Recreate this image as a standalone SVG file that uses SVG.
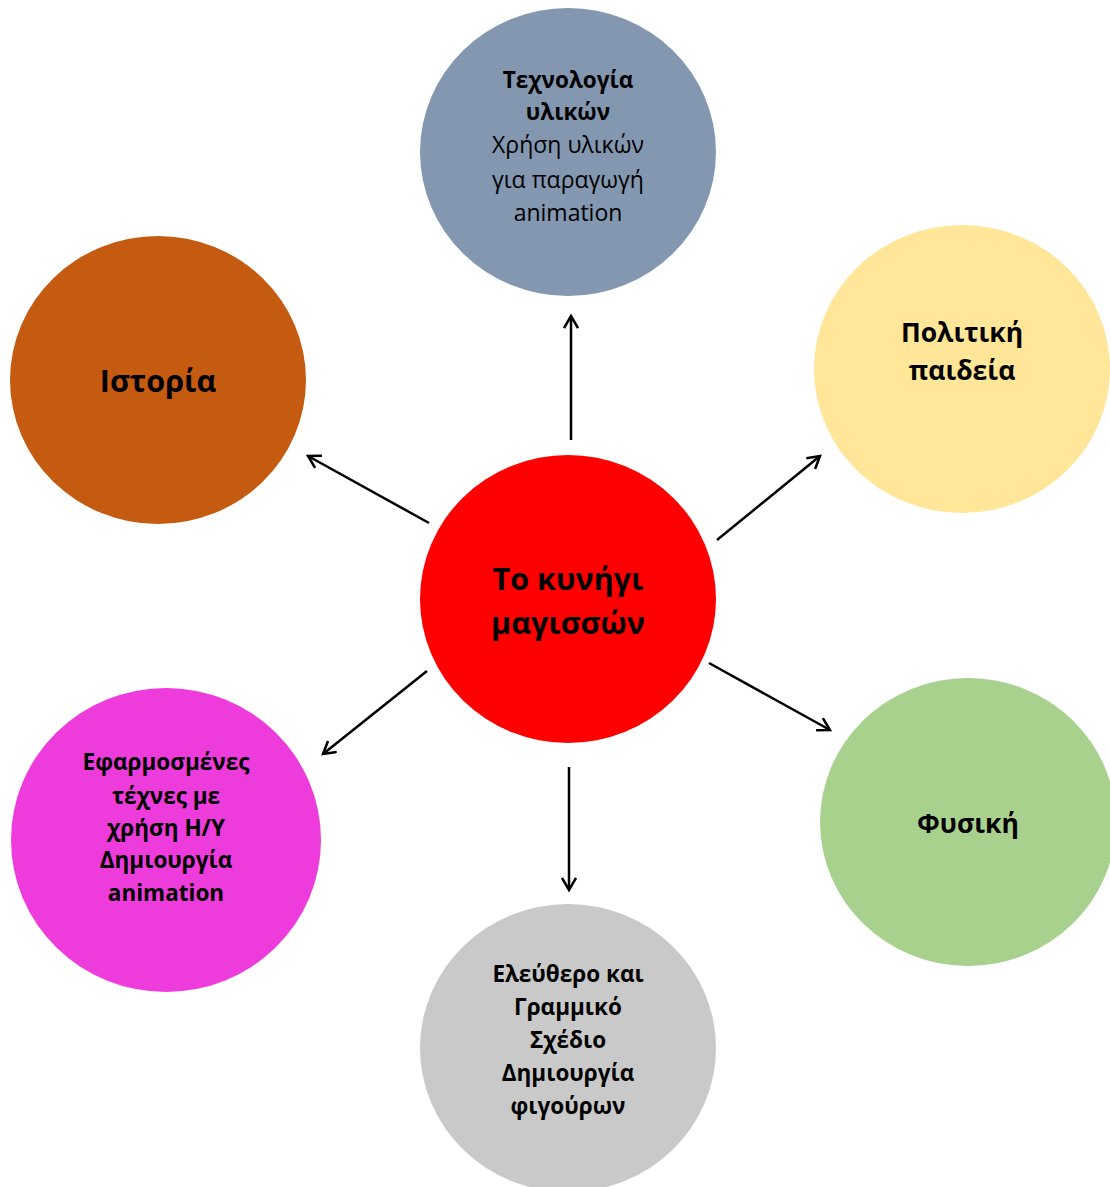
<svg xmlns="http://www.w3.org/2000/svg" width="1110" height="1187" viewBox="0 0 1110 1187">
<style>
text{font-family:"Open Sans","Noto Sans","DejaVu Sans",sans-serif;fill:#000;text-anchor:middle;dominant-baseline:central}
.b{font-weight:bold}
.r{font-size:23px}
.s{font-size:22.5px}
.m{font-size:26.5px}
.l{font-size:30.5px}
.c{stroke:#000;stroke-width:2.5;fill:none}
</style>
<defs>
<marker id="ah" markerWidth="16" markerHeight="16" refX="13" refY="8" orient="auto" markerUnits="userSpaceOnUse">
<path d="M1,1 L13,8 L1,15" fill="none" stroke="#000" stroke-width="2.5"/>
</marker>
</defs>
<rect width="1110" height="1187" fill="#fff"/>
<g id="connectors">
<line class="c" x1="571" y1="440" x2="571" y2="316" marker-end="url(#ah)"/>
<line class="c" x1="429" y1="523" x2="308" y2="456" marker-end="url(#ah)"/>
<line class="c" x1="717" y1="540" x2="820" y2="456" marker-end="url(#ah)"/>
<line class="c" x1="427" y1="671" x2="323" y2="754" marker-end="url(#ah)"/>
<line class="c" x1="709" y1="663" x2="830" y2="730" marker-end="url(#ah)"/>
<line class="c" x1="569" y1="767" x2="569" y2="890" marker-end="url(#ah)"/>
</g>
<g id="node-tech">
<ellipse cx="568" cy="152" rx="148" ry="144" fill="#8497B0"/>
<text class="s b" x="568" y="79">Τεχνολογία</text>
<text class="s b" x="568" y="111">υλικών</text>
<text class="r" x="568" y="144">Χρήση υλικών</text>
<text class="r" x="568" y="179">για παραγωγή</text>
<text class="r" x="568" y="212">animation</text>
</g>
<g id="node-history">
<ellipse cx="158" cy="380" rx="148" ry="144" fill="#C55A11"/>
<text class="l b" x="158" y="380">Ιστορία</text>
</g>
<g id="node-civics">
<ellipse cx="962" cy="369" rx="148" ry="144" fill="#FFE699"/>
<text class="m b" x="962" y="332">Πολιτική</text>
<text class="m b" x="962" y="370">παιδεία</text>
</g>
<g id="node-center">
<ellipse cx="568" cy="599" rx="148" ry="144" fill="#FF0000"/>
<text class="l b" x="568" y="578">Το κυνήγι</text>
<text class="l b" x="568" y="622">μαγισσών</text>
</g>
<g id="node-arts">
<ellipse cx="166" cy="840" rx="155" ry="152" fill="#EE3BDB"/>
<text class="s b" x="166" y="761">Εφαρμοσμένες</text>
<text class="s b" x="166" y="795">τέχνες με</text>
<text class="s b" x="166" y="827">χρήση Η/Υ</text>
<text class="s b" x="166" y="859">Δημιουργία</text>
<text class="s b" x="166" y="892">animation</text>
</g>
<g id="node-physics">
<ellipse cx="968" cy="822" rx="148" ry="144" fill="#A9D18E"/>
<text class="m b" x="968" y="823">Φυσική</text>
</g>
<g id="node-drawing">
<ellipse cx="568" cy="1048" rx="148" ry="144" fill="#C9C9C9"/>
<text class="s b" x="568" y="973">Ελεύθερο και</text>
<text class="s b" x="568" y="1006">Γραμμικό</text>
<text class="s b" x="568" y="1039">Σχέδιο</text>
<text class="s b" x="568" y="1072">Δημιουργία</text>
<text class="s b" x="568" y="1105">φιγούρων</text>
</g>
</svg>
